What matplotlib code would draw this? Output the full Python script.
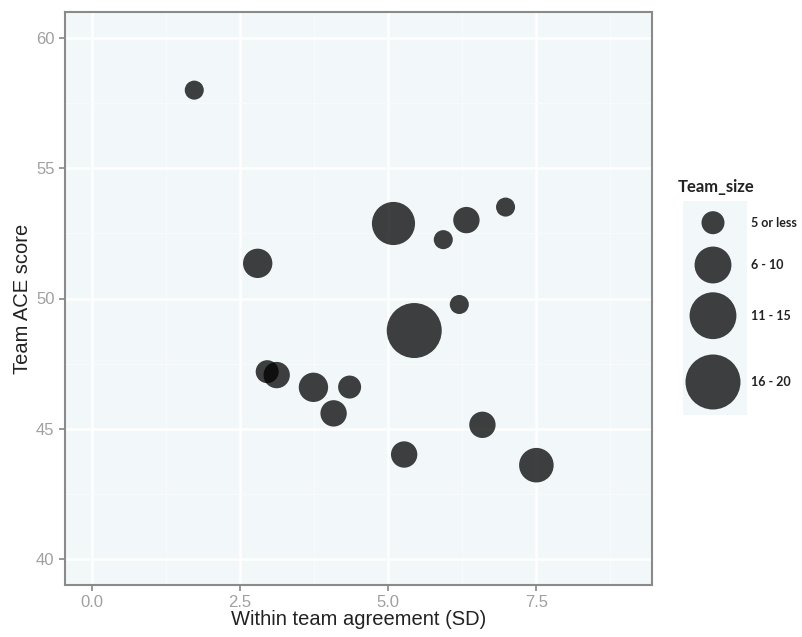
import numpy as np
import matplotlib
matplotlib.use("Agg")
import matplotlib.pyplot as plt
from matplotlib.patches import Rectangle

plt.rcParams['font.family'] = ['Liberation Sans', 'DejaVu Sans']

# within team agreement (SD), team ACE score, team size
sd = [1.73, 2.80, 2.96, 3.12, 3.74, 4.35, 4.08, 5.09, 5.44, 5.93, 6.32, 6.98, 6.20, 6.59, 5.27, 7.50]
ace = [58.0, 51.35, 47.19, 47.06, 46.59, 46.60, 45.59, 52.88, 48.77, 52.26, 53.01, 53.51, 49.77, 45.15, 44.01, 43.60]
team_size = [4, 7, 5, 6, 7, 5, 6, 13, 20, 4, 6, 4, 4, 6, 6, 9]

legend_sizes = [5, 10, 15, 20]
legend_labels = ["5 or less", "6 - 10", "11 - 15", "16 - 20"]

x_ticks = [0, 2.5, 5, 7.5]
y_ticks = [40, 45, 50, 55, 60]

DPI = 100


def size_to_s(t):
    # area grows with team size, diameter in pixels -> marker area in pt^2
    d_px = np.sqrt(np.maximum(-303 + 166.4 * np.asarray(t, dtype=float), 50))
    return (d_px * 72.0 / DPI) ** 2


W, H = 803, 637
fig = plt.figure(figsize=(W / DPI, H / DPI), dpi=DPI)
ax = fig.add_axes([65 / W, 1 - 585 / H, (652 - 65) / W, (585 - 12) / H])

bg = "#f2f8fa"
ax.set_facecolor(bg)
ax.set_xlim(-0.45, 9.45)
ax.set_ylim(39, 61)
ax.set_xticks(x_ticks)
ax.set_xticklabels(["0.0", "2.5", "5.0", "7.5"])
ax.set_yticks(y_ticks)
ax.set_xticks([1.25, 3.75, 6.25, 8.75], minor=True)
ax.set_yticks([42.5, 47.5, 52.5, 57.5], minor=True)
ax.grid(which="major", color="white", linewidth=1.8)
ax.grid(which="minor", color="#f8fbfc", linewidth=0.8)
ax.set_axisbelow(True)
ax.tick_params(which="minor", length=0)
ax.tick_params(which="major", colors="#888888", labelcolor="#a0a0a0", labelsize=12, length=4, width=1.2)
for s in ax.spines.values():
    s.set_color("#8a8a8a")
    s.set_linewidth(1.5)

ax.scatter(sd, ace, s=size_to_s(team_size), color="black", alpha=0.75, linewidths=0, zorder=3)

ax.set_xlabel("Within team agreement (SD)", fontsize=14.5, color="#222222", labelpad=0)
ax.set_ylabel("Team ACE score", fontsize=14.5, color="#222222", labelpad=3)

# legend drawn in pixel coordinates
lax = fig.add_axes([0, 0, 1, 1], zorder=5)
lax.set_xlim(0, W)
lax.set_ylim(H, 0)
lax.axis("off")
lax.patch.set_alpha(0)

lax.text(678, 187, "Team_size", fontsize=12, fontweight="bold", family=["Lato", "DejaVu Sans"],
         color="#222222", va="center", ha="left")
key_y = [222.7, 265, 315.7, 382]
edges = [201, 244, 290, 349, 415]
for i in range(4):
    lax.add_patch(Rectangle((683, edges[i]), 64, edges[i + 1] - edges[i], facecolor=bg, edgecolor="none"))
lax.scatter([713] * 4, key_y, s=size_to_s(legend_sizes), color="black", alpha=0.75, linewidths=0, zorder=3)
for y, lab in zip(key_y, legend_labels):
    lax.text(751, y, lab, fontsize=9, fontweight="bold", family=["Lato", "DejaVu Sans"],
             color="#222222", va="center", ha="left")

fig.savefig("out.png", dpi=DPI)
